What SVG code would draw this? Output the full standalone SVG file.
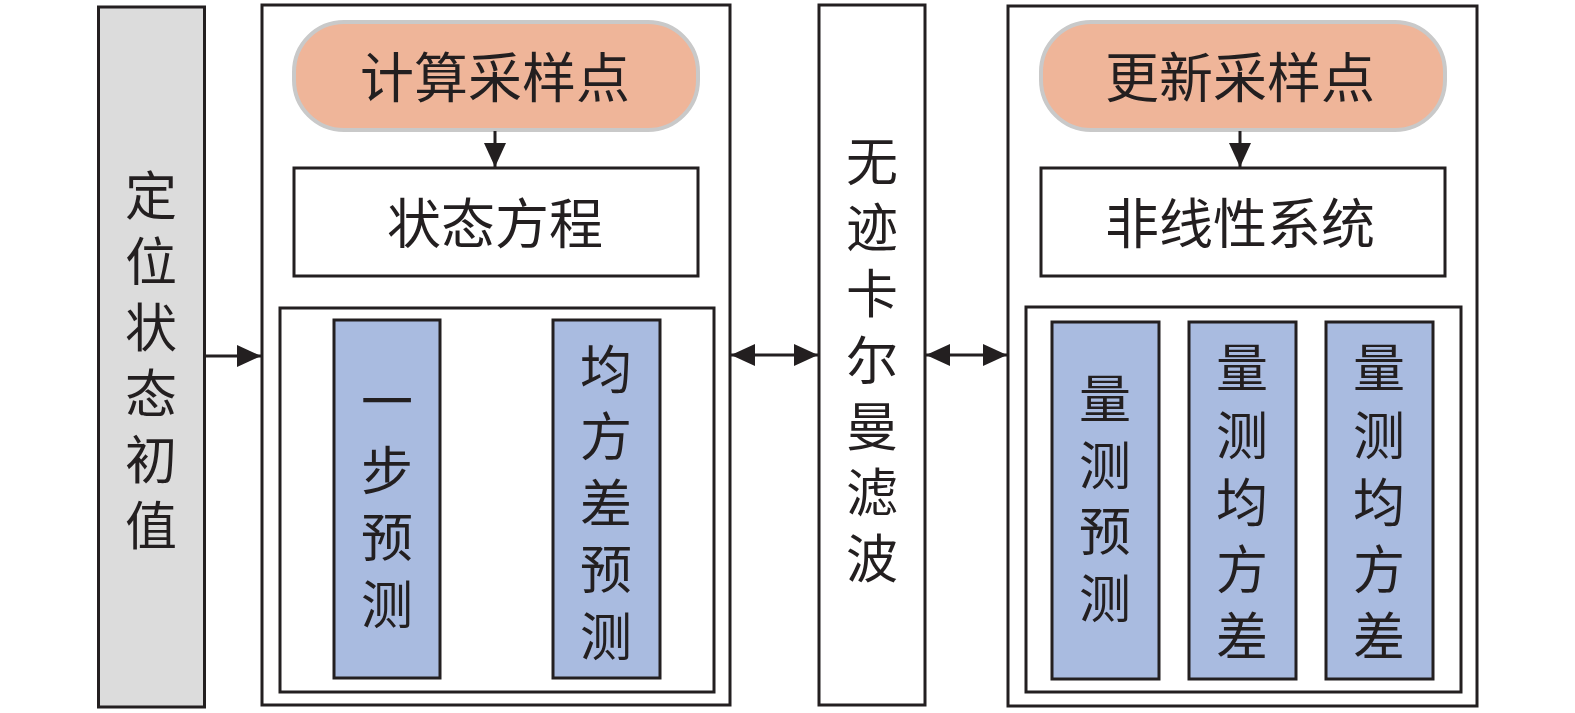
<svg xmlns="http://www.w3.org/2000/svg" width="1575" height="713" viewBox="0 0 1575 713">
<defs>
<marker id="ah" viewBox="0 0 10 10" refX="10" refY="5" markerWidth="24" markerHeight="22" markerUnits="userSpaceOnUse" orient="auto-start-reverse" preserveAspectRatio="none">
<path d="M0,0 L10,5 L0,10 Z" fill="#231f20"/>
</marker>
<style>
.box{fill:#fff;stroke:#231f20;stroke-width:3}
.gray{fill:#dcdcdc;stroke:#231f20;stroke-width:3}
.blue{fill:#a9bbe0;stroke:#231f20;stroke-width:3}
.pill{fill:#efb599;stroke:#c9c9c9;stroke-width:4}
.t{font-family:"Noto Sans CJK SC","Noto Sans CJK JP",sans-serif;font-size:52px;fill:#231f20;text-anchor:middle;dominant-baseline:central}
.h{font-size:54px}
.ln{stroke:#231f20;stroke-width:3;fill:none}
</style>
</defs>
<rect width="1575" height="713" fill="#fff"/>

<g id="init">
<rect class="gray" x="98.5" y="7" width="106" height="700"/>
<text class="t"><tspan x="151" y="192">定</tspan><tspan x="151" y="258">位</tspan><tspan x="151" y="324">状</tspan><tspan x="151" y="390">态</tspan><tspan x="151" y="456">初</tspan><tspan x="151" y="522">值</tspan></text>
</g>

<g id="predictGroup">
<rect class="box" x="262" y="5" width="468" height="700"/>
</g>
<g id="calcSample">
<rect class="pill" x="294" y="22" width="404" height="108" rx="50" ry="50"/>
<text class="t h" x="495" y="74">计算采样点</text>
</g>
<g id="stateEq">
<rect class="box" x="294" y="168" width="404" height="108"/>
<text class="t h" x="495" y="220">状态方程</text>
</g>
<g id="predInner">
<rect class="box" x="280" y="308" width="434" height="384"/>
</g>
<g id="onestep">
<rect class="blue" x="334" y="320" width="106" height="358"/>
<text class="t"><tspan x="387" y="398">一</tspan><tspan x="387" y="467">步</tspan><tspan x="387" y="534">预</tspan><tspan x="387" y="601">测</tspan></text>
</g>
<g id="covPred">
<rect class="blue" x="553" y="320" width="107" height="358"/>
<text class="t"><tspan x="606" y="366">均</tspan><tspan x="606" y="433">方</tspan><tspan x="606" y="500">差</tspan><tspan x="606" y="566">预</tspan><tspan x="606" y="633">测</tspan></text>
</g>

<g id="ukf">
<rect class="box" x="819" y="5" width="106" height="700"/>
<text class="t"><tspan x="872" y="158">无</tspan><tspan x="872" y="224">迹</tspan><tspan x="872" y="290">卡</tspan><tspan x="872" y="357">尔</tspan><tspan x="872" y="423">曼</tspan><tspan x="872" y="489">滤</tspan><tspan x="872" y="555">波</tspan></text>
</g>

<g id="updateGroup">
<rect class="box" x="1008" y="6" width="469" height="700"/>
</g>
<g id="updSample">
<rect class="pill" x="1041" y="22" width="404" height="108" rx="50" ry="50"/>
<text class="t h" x="1240" y="74">更新采样点</text>
</g>
<g id="nonlinear">
<rect class="box" x="1041" y="168" width="404" height="108"/>
<text class="t h" x="1240" y="220">非线性系统</text>
</g>
<g id="updInner">
<rect class="box" x="1026" y="307" width="435" height="385"/>
</g>
<g id="measPred">
<rect class="blue" x="1052" y="322" width="107" height="357"/>
<text class="t"><tspan x="1105" y="395">量</tspan><tspan x="1105" y="462">测</tspan><tspan x="1105" y="528">预</tspan><tspan x="1105" y="595">测</tspan></text>
</g>
<g id="measCov1">
<rect class="blue" x="1189" y="322" width="107" height="357"/>
<text class="t"><tspan x="1242" y="364">量</tspan><tspan x="1242" y="432">测</tspan><tspan x="1242" y="499">均</tspan><tspan x="1242" y="566">方</tspan><tspan x="1242" y="633">差</tspan></text>
</g>
<g id="measCov2">
<rect class="blue" x="1326" y="322" width="107" height="357"/>
<text class="t"><tspan x="1379" y="364">量</tspan><tspan x="1379" y="432">测</tspan><tspan x="1379" y="499">均</tspan><tspan x="1379" y="566">方</tspan><tspan x="1379" y="633">差</tspan></text>
</g>

<g id="connectors">
<line class="ln" x1="205" y1="356" x2="261" y2="356" marker-end="url(#ah)"/>
<line class="ln" x1="495" y1="131" x2="495" y2="167" marker-end="url(#ah)"/>
<line class="ln" x1="731" y1="355" x2="818" y2="355" marker-start="url(#ah)" marker-end="url(#ah)"/>
<line class="ln" x1="926" y1="355" x2="1007" y2="355" marker-start="url(#ah)" marker-end="url(#ah)"/>
<line class="ln" x1="1240" y1="131" x2="1240" y2="167" marker-end="url(#ah)"/>
</g>
</svg>
